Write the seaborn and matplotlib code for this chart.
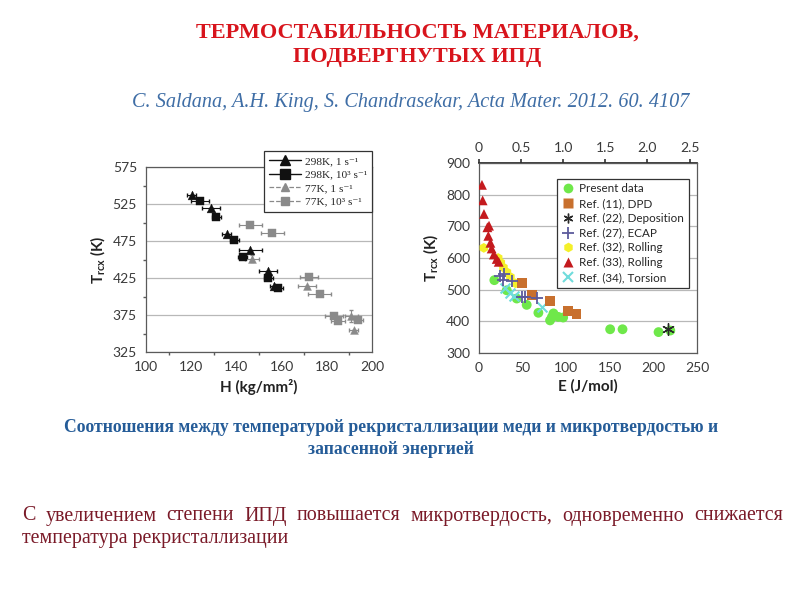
import numpy as np
import pandas as pd
import matplotlib
matplotlib.use("Agg")
import matplotlib.pyplot as plt
import seaborn as sns
from matplotlib.lines import Line2D
from matplotlib.ticker import MultipleLocator

# ---------------- data: left panel (hardness) ----------------
h_298_1 = [120.3, 128.8, 135.7, 146.2, 154.1, 156.8]
t_298_1 = [537, 520, 485, 463, 435, 414]
herr_298_1 = [2, 4, 2, 5, 4, 2]

h_298_1e3 = [123.7, 131.0, 139.0, 142.8, 154.1, 158.5]
t_298_1e3 = [529, 508, 477, 453, 425, 412]
herr_298_1e3 = [4, 2, 2, 2, 2, 2]

h_77_1 = [147.0, 171.2, 190.9, 192.0]
t_77_1 = [451, 414, 374, 355]
herr_77_1 = [3, 4, 3, 2]
terr_77_1 = [5, 0, 8, 0]

h_77_1e3 = [146.2, 155.9, 172.0, 176.9, 183.1, 185.0, 194.0]
t_77_1e3 = [497, 486, 426, 404, 374, 367, 368]
herr_77_1e3 = [5, 5, 4, 5, 4, 3, 2]

left_labels = ["298K, 1 s⁻¹", "298K, 10³ s⁻¹", "77K, 1 s⁻¹", "77K, 10³ s⁻¹"]
left_yticks = [325, 375, 425, 475, 525, 575]

# ---------------- data: right panel (stored energy) ----------------
present_E = [17.6, 31.8, 43.3, 54.7, 68.1, 81.5, 83.5, 85.4, 91.0, 96.5, 150.4, 164.6, 205.9, 219.4]
present_T = [530, 498, 472, 452, 427, 403, 413, 425, 414, 412, 375, 375, 366, 371]
dpd_E = [49.5, 60.5, 81.0, 102.0, 111.8]
dpd_T = [521, 482, 464, 433, 422]
dep_E = [216.5]
dep_T = [377]
ecap_E = [24.5, 27.2, 29.0, 37.5, 49.0, 52.7, 66.0]
ecap_T = [543, 530, 548, 526, 477, 477, 474]
roll32_E = [5.5, 22.0, 25.0, 28.0, 32.0, 36.0, 42.0]
roll32_T = [632, 600, 585, 570, 555, 540, 520]
roll33_E = [3.4, 4.2, 5.7, 9.6, 11.5, 10.7, 13.1, 14.5, 17.0, 20.3, 22.6]
roll33_T = [831, 782, 739, 697, 702, 670, 648, 630, 611, 597, 588]
tors_E = [30.0, 35.6, 40.0, 72.0]
tors_T = [505, 490, 480, 445]

right_labels = ["Present data", "Ref. (11), DPD", "Ref. (22), Deposition", "Ref. (27), ECAP",
                "Ref. (32), Rolling", "Ref. (33), Rolling", "Ref. (34), Torsion"]
top_ticks = [0, 0.5, 1.0, 1.5, 2.0, 2.5]
top_ticklabels = ["0", "0.5", "1.0", "1.5", "2.0", "2.5"]

# ---------------- style ----------------
sns.set_theme(style="white")
plt.rcParams["font.family"] = ["Lato", "DejaVu Sans"]
plt.rcParams["mathtext.fontset"] = "custom"
plt.rcParams["mathtext.rm"] = "Lato"
plt.rcParams["mathtext.bf"] = "Lato:bold"
plt.rcParams["mathtext.it"] = "Lato:italic"

fig = plt.figure(figsize=(8, 6), dpi=100)
fig.patch.set_facecolor("white")

W, H = 800, 600
def ax_rect(l, t, r, b):
    return [l / W, 1 - b / H, (r - l) / W, (b - t) / H]

tick_col = "#3a3a3a"
spine_col = "#5a5a5a"

# ---------------- left panel ----------------
axL = fig.add_axes(ax_rect(146, 167, 372, 352))
axL.set_xlim(100, 200)
axL.set_ylim(325, 575)
axL.set_yticks(left_yticks)
axL.yaxis.set_minor_locator(MultipleLocator(25))
axL.xaxis.set_major_locator(MultipleLocator(20))
axL.xaxis.set_minor_locator(MultipleLocator(10))
axL.grid(axis="y", which="major", color="#b8b8b8", lw=0.9)
axL.set_axisbelow(True)

black = "#111111"
grey = "#8a8a8a"
axL.errorbar(h_298_1, t_298_1, xerr=herr_298_1, fmt="none", ecolor=black, elinewidth=0.8, capsize=1.5)
axL.errorbar(h_298_1e3, t_298_1e3, xerr=herr_298_1e3, fmt="none", ecolor=black, elinewidth=0.8, capsize=1.5)
axL.errorbar(h_77_1, t_77_1, xerr=herr_77_1, yerr=terr_77_1, fmt="none", ecolor=grey, elinewidth=0.8, capsize=1.5)
axL.errorbar(h_77_1e3, t_77_1e3, xerr=herr_77_1e3, fmt="none", ecolor=grey, elinewidth=0.8, capsize=1.5)

sns.scatterplot(x=h_298_1, y=t_298_1, marker="^", s=40, color=black, edgecolor=black, linewidth=0.3, ax=axL, zorder=3)
sns.scatterplot(x=h_298_1e3, y=t_298_1e3, marker="s", s=38, color=black, edgecolor=black, linewidth=0.3, ax=axL, zorder=3)
sns.scatterplot(x=h_77_1, y=t_77_1, marker="^", s=32, color=grey, edgecolor=grey, linewidth=0.3, ax=axL, zorder=3)
sns.scatterplot(x=h_77_1e3, y=t_77_1e3, marker="s", s=30, color=grey, edgecolor=grey, linewidth=0.3, ax=axL, zorder=3)

axL.set_xlabel("H (kg/mm²)", fontsize=11, fontweight="bold", color="#222222", labelpad=4)
axL.set_ylabel(r"$\mathbf{T_{rcx}}$ (K)", fontsize=11, fontweight="bold", color="#222222", labelpad=4)
axL.tick_params(axis="both", which="major", labelsize=10, colors=tick_col, length=3, direction="out")
axL.tick_params(axis="both", which="minor", length=2, direction="out", colors=spine_col)
axL.tick_params(axis="x", which="minor", bottom=True)
axL.tick_params(axis="y", which="minor", left=True)
for s in axL.spines.values():
    s.set_color(spine_col)
    s.set_linewidth(0.9)

hL = [
    Line2D([], [], color=black, ls="-", lw=1.0, marker="^", ms=7),
    Line2D([], [], color=black, ls="-", lw=1.0, marker="s", ms=7),
    Line2D([], [], color=grey, ls="--", lw=0.9, marker="^", ms=6),
    Line2D([], [], color=grey, ls="--", lw=0.9, marker="s", ms=6),
]
legL = axL.legend(hL, left_labels, loc="upper right", bbox_to_anchor=(1.0, 1.085), borderaxespad=0.0,
                  prop={"family": ["Liberation Serif", "DejaVu Serif"], "size": 8.2},
                  frameon=True, fancybox=False, edgecolor="#333333", framealpha=1,
                  handlelength=2.8, handletextpad=0.3, borderpad=0.45, labelspacing=0.3)
legL.get_frame().set_linewidth(0.9)

# ---------------- right panel ----------------
axR = fig.add_axes(ax_rect(479, 163, 697, 353))
axR.set_xlim(0, 250)
axR.set_ylim(300, 900)
axR.yaxis.set_major_locator(MultipleLocator(100))
axR.xaxis.set_major_locator(MultipleLocator(50))
axR.grid(axis="y", color="#b8b8b8", lw=0.9)
axR.set_axisbelow(True)

rows = []
for lab, ee, tt in zip(right_labels,
                       [present_E, dpd_E, dep_E, ecap_E, roll32_E, roll33_E, tors_E],
                       [present_T, dpd_T, dep_T, ecap_T, roll32_T, roll33_T, tors_T]):
    for e, t in zip(ee, tt):
        rows.append({"E": e, "T": t, "src": lab})
df = pd.DataFrame(rows)

colors = {
    "Present data": "#6fe84a",
    "Ref. (11), DPD": "#c8702e",
    "Ref. (22), Deposition": "#2a2a2a",
    "Ref. (27), ECAP": "#5c5a9c",
    "Ref. (32), Rolling": "#f4f02a",
    "Ref. (33), Rolling": "#c41a1e",
    "Ref. (34), Torsion": "#70dcdc",
}
markers = {
    "Present data": "o",
    "Ref. (11), DPD": "s",
    "Ref. (22), Deposition": (6, 2, 0),
    "Ref. (27), ECAP": "+",
    "Ref. (32), Rolling": "h",
    "Ref. (33), Rolling": "^",
    "Ref. (34), Torsion": "x",
}
draw_order = ["Present data", "Ref. (34), Torsion", "Ref. (32), Rolling", "Ref. (33), Rolling",
              "Ref. (11), DPD", "Ref. (27), ECAP", "Ref. (22), Deposition"]
for lab in draw_order:
    sub = df[df["src"] == lab]
    mk = markers[lab]
    if lab == "Ref. (27), ECAP":
        sns.scatterplot(data=sub, x="E", y="T", marker=mk, s=70, color=colors[lab], linewidth=1.3, ax=axR, zorder=3)
    elif lab == "Ref. (34), Torsion":
        sns.scatterplot(data=sub, x="E", y="T", marker=mk, s=50, color=colors[lab], linewidth=1.5, ax=axR, zorder=3)
    elif lab == "Ref. (22), Deposition":
        sns.scatterplot(data=sub, x="E", y="T", marker=mk, s=70, color=colors[lab], linewidth=1.0, ax=axR, zorder=4)
    else:
        sns.scatterplot(data=sub, x="E", y="T", marker=mk, s=50, color=colors[lab], edgecolor="none", linewidth=0, ax=axR, zorder=3)

axR.set_xlabel("E (J/mol)", fontsize=11, fontweight="bold", color="#222222", labelpad=4)
axR.set_ylabel(r"$\mathbf{T_{rcx}}$ (K)", fontsize=11, fontweight="bold", color="#222222", labelpad=4)
axR.tick_params(axis="both", which="major", labelsize=10, colors=tick_col, length=3, direction="out")
for s in axR.spines.values():
    s.set_color(spine_col)
    s.set_linewidth(0.9)

sec = axR.secondary_xaxis("top", functions=(lambda e: e / 96.6, lambda u: u * 96.6))
sec.set_xticks(top_ticks)
sec.set_xticklabels(top_ticklabels)
sec.tick_params(labelsize=10, colors=tick_col, length=3, direction="out")

hR = []
for lab in right_labels:
    if lab == "Ref. (27), ECAP":
        hR.append(Line2D([], [], ls="", marker="+", ms=8, mew=1.3, color=colors[lab]))
    elif lab == "Ref. (34), Torsion":
        hR.append(Line2D([], [], ls="", marker="x", ms=7, mew=1.5, color=colors[lab]))
    elif lab == "Ref. (22), Deposition":
        hR.append(Line2D([], [], ls="", marker=markers[lab], ms=7, mew=1.0, color=colors[lab]))
    else:
        hR.append(Line2D([], [], ls="", marker=markers[lab], ms=7, mec="none", color=colors[lab]))
legR = axR.legend(hR, right_labels, loc="upper right", bbox_to_anchor=(0.99, 0.948),
                  prop={"family": ["Lato", "DejaVu Sans"], "size": 8.4},
                  frameon=True, fancybox=False, edgecolor="#333333", framealpha=1,
                  handlelength=1.0, handletextpad=0.5, borderpad=0.4, labelspacing=0.32)
legR.get_frame().set_linewidth(0.9)

# ---------------- slide texts ----------------
serif = ["Liberation Serif", "DejaVu Serif"]
fig.text(417 / W, 1 - 33 / H, "ТЕРМОСТАБИЛЬНОСТЬ МАТЕРИАЛОВ,", ha="center", va="center",
         family=serif, fontsize=16, fontweight="bold", color="#d8141c")
fig.text(417 / W, 1 - 57 / H, "ПОДВЕРГНУТЫХ ИПД", ha="center", va="center",
         family=serif, fontsize=16, fontweight="bold", color="#d8141c")
fig.text(411 / W, 1 - 103 / H, "C. Saldana, A.H. King, S. Chandrasekar, Acta Mater. 2012. 60. 4107",
         ha="center", va="center", family=serif, style="italic", fontsize=14.6, color="#3f6ea6")
fig.text(391 / W, 1 - 428 / H, "Соотношения между температурой рекристаллизации меди и микротвердостью и",
         ha="center", va="center", family=serif, fontsize=12.7, fontweight="bold", color="#255c98")
fig.text(391 / W, 1 - 449 / H, "запасенной энергией",
         ha="center", va="center", family=serif, fontsize=12.7, fontweight="bold", color="#255c98")

body_col = "#7a1a28"
line1 = "С увеличением степени ИПД повышается микротвердость, одновременно снижается".split()
x0, x1 = 22, 783
renderer = fig.canvas.get_renderer()
objs = [fig.text(0, 1 - 516 / H, w, ha="left", va="center", family=serif, fontsize=14.4, color=body_col)
        for w in line1]
widths = [o.get_window_extent(renderer).width for o in objs]
gap = (x1 - x0 - sum(widths)) / (len(objs) - 1)
x = x0
for o, w in zip(objs, widths):
    o.set_x(x / W)
    x += w + gap
fig.text(x0 / W, 1 - 538 / H, "температура рекристаллизации", ha="left", va="center",
         family=serif, fontsize=14.4, color=body_col)

fig.savefig("out.png", dpi=100, facecolor="white")
